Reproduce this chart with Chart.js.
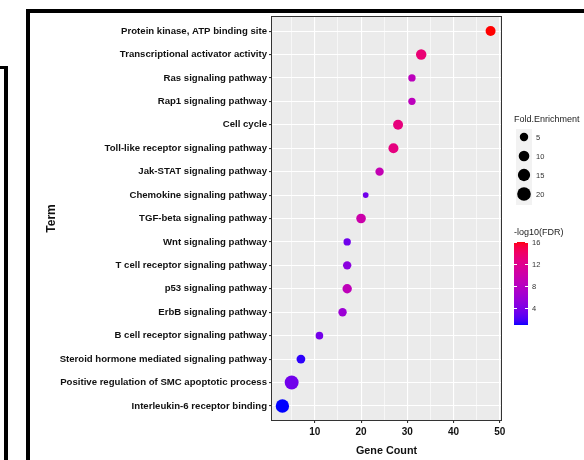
<!DOCTYPE html>
<html>
<head>
<meta charset="utf-8">
<script src="https://cdn.jsdelivr.net/npm/chart.js@4.4.1/dist/chart.umd.min.js"></script>
<style>
  html, body { margin: 0; padding: 0; background: #fff; }
  #wrap { position: relative; width: 584px; height: 460px; overflow: hidden; }
  #chart { position: absolute; left: 0; top: 0; }
  .frame { position: absolute; background: #000; }
</style>
</head>
<body>
<div id="wrap">
  <canvas id="chart" width="584" height="460"></canvas>
  <div class="frame" style="left:26px;top:9px;width:558px;height:4px"></div>
  <div class="frame" style="left:26px;top:9px;width:4px;height:451px"></div>
  <div class="frame" style="left:0;top:66px;width:8px;height:3px"></div>
  <div class="frame" style="left:4px;top:66px;width:4px;height:394px"></div>
</div>
<script>
const terms = [
  'Protein kinase, ATP binding site',
  'Transcriptional activator activity',
  'Ras signaling pathway',
  'Rap1 signaling pathway',
  'Cell cycle',
  'Toll-like receptor signaling pathway',
  'Jak-STAT signaling pathway',
  'Chemokine signaling pathway',
  'TGF-beta signaling pathway',
  'Wnt signaling pathway',
  'T cell receptor signaling pathway',
  'p53 signaling pathway',
  'ErbB signaling pathway',
  'B cell receptor signaling pathway',
  'Steroid hormone mediated signaling pathway',
  'Positive regulation of SMC apoptotic process',
  'Interleukin-6 receptor binding'
];
const geneCount = [48, 33, 31, 31, 28, 27, 24, 21, 20, 17, 17, 17, 16, 11, 7, 5, 3];
const foldEnrichment = [8.4, 9.5, 3.2, 3.2, 8.4, 8.4, 4.9, 1.2, 7.5, 3.2, 4.9, 7.0, 4.9, 3.5, 5.7, 21, 19];
const logFDR = [16.0, 13.4, 8.5, 8.5, 13.0, 12.8, 9.2, 3.5, 10.0, 3.4, 4.9, 8.7, 6.0, 3.6, 1.4, 3.5, 1.0];
const sizeBreaks = [5, 10, 15, 20];
const colorBreaks = [4, 8, 12, 16];
const xTicks = [5, 10, 15, 20, 25, 30, 35, 40, 45, 50];
const fdrRange = [1, 16];

const FONT = '"Liberation Sans", Arial, sans-serif';

// size mapping (radius linear in sqrt of value)
function radius(fe) { return 1.6 + 1.17 * Math.sqrt(fe); }

// blue -> red gradient, blended in linear light
function toLin(c) { c /= 255; return c <= 0.04045 ? c / 12.92 : Math.pow((c + 0.055) / 1.055, 2.4); }
function toSrgb(c) {
  const v = c <= 0.0031308 ? 12.92 * c : 1.055 * Math.pow(c, 1 / 2.4) - 0.055;
  return Math.round(Math.max(0, Math.min(1, v)) * 255);
}
const lowCol = [0, 0, 255].map(toLin);
const highCol = [255, 0, 0].map(toLin);
function fdrColor(v) {
  const t = Math.max(0, Math.min(1, (v - fdrRange[0]) / (fdrRange[1] - fdrRange[0])));
  const [r, g, b] = lowCol.map((c, i) => toSrgb(c + (highCol[i] - c) * t));
  return `rgb(${r},${g},${b})`;
}

const points = terms.map((t, i) => ({ x: geneCount[i], y: i, r: radius(foldEnrichment[i]) }));

const panelPlugin = {
  id: 'panel',
  beforeDraw(chart) {
    const { ctx, chartArea: a } = chart;
    ctx.save();
    ctx.fillStyle = '#EBEBEB';
    ctx.fillRect(a.left, a.top, a.right - a.left, a.bottom - a.top);
    ctx.restore();
  },
  afterDatasetsDraw(chart) {
    const { ctx, chartArea: a } = chart;
    ctx.save();
    ctx.strokeStyle = '#333';
    ctx.lineWidth = 1;
    ctx.strokeRect(a.left - 0.5, a.top - 0.5, a.right - a.left + 1, a.bottom - a.top + 1);
    ctx.restore();
  }
};

const legendPlugin = {
  id: 'ggLegend',
  afterDraw(chart) {
    const ctx = chart.ctx;
    ctx.save();
    ctx.textBaseline = 'middle';
    ctx.textAlign = 'left';

    // size legend
    ctx.fillStyle = '#222';
    ctx.font = '9px ' + FONT;
    ctx.fillText('Fold.Enrichment', 514, 120);
    ctx.fillStyle = '#F2F2F2';
    ctx.fillRect(516, 129, 16, 76);
    sizeBreaks.forEach((v, i) => {
      const y = 137 + i * 19;
      ctx.fillStyle = '#000';
      ctx.beginPath();
      ctx.arc(524, y, radius(v), 0, Math.PI * 2);
      ctx.fill();
      ctx.fillStyle = '#333';
      ctx.font = '7.5px ' + FONT;
      ctx.fillText(String(v), 536, y + 0.5);
    });

    // colour bar
    ctx.fillStyle = '#222';
    ctx.font = '9px ' + FONT;
    ctx.fillText('-log10(FDR)', 514, 233);
    const top = 242, bot = 325, x0 = 514, w = 14;
    const valToY = v => bot - (v - fdrRange[0]) / (fdrRange[1] - fdrRange[0]) * (bot - top);
    for (let y = top; y < bot; y++) {
      const v = fdrRange[1] - (y + 0.5 - top) / (bot - top) * (fdrRange[1] - fdrRange[0]);
      ctx.fillStyle = fdrColor(v);
      ctx.fillRect(x0, y, w, 1);
    }
    colorBreaks.forEach(v => {
      const y = Math.round(valToY(v)) + 0.5;
      ctx.strokeStyle = '#fff';
      ctx.lineWidth = 1;
      ctx.beginPath();
      ctx.moveTo(x0, y); ctx.lineTo(x0 + 3, y);
      ctx.moveTo(x0 + w - 3, y); ctx.lineTo(x0 + w, y);
      ctx.stroke();
      ctx.fillStyle = '#333';
      ctx.font = '7.5px ' + FONT;
      ctx.fillText(String(v), 532, y);
    });
    ctx.restore();
  }
};

new Chart(document.getElementById('chart'), {
  type: 'bubble',
  data: {
    datasets: [{
      data: points,
      backgroundColor: logFDR.map(fdrColor),
      borderWidth: 0,
      hoverBorderWidth: 0
    }]
  },
  options: {
    responsive: false,
    animation: false,
    events: [],
    layout: { padding: { top: 17, right: 83, bottom: 0, left: 0 } },
    plugins: { legend: { display: false }, tooltip: { enabled: false } },
    scales: {
      x: {
        type: 'linear',
        min: 0.75,
        max: 50.25,
        afterBuildTicks: s => { s.ticks = xTicks.map(v => ({ value: v })); },
        afterFit: s => { s.height = 40; },
        ticks: {
          callback: v => (v % 10 === 0 ? String(v) : ''),
          font: { family: FONT, size: 10, weight: 'bold' },
          color: '#111',
          padding: 3,
          maxRotation: 0,
          autoSkip: false
        },
        grid: {
          color: '#FFFFFF',
          lineWidth: c => (c.tick && c.tick.value % 10 === 0 ? 1.1 : 0.6),
          tickColor: c => (c.tick && c.tick.value % 10 === 0 ? '#333' : 'rgba(0,0,0,0)'),
          tickLength: 3
        },
        border: { display: false },
        title: {
          display: true,
          text: 'Gene Count',
          font: { family: FONT, size: 10.8, weight: 'bold' },
          color: '#111',
          padding: { top: 0, bottom: 2 }
        }
      },
      y: {
        type: 'linear',
        reverse: true,
        min: -0.6,
        max: terms.length - 0.4,
        afterBuildTicks: s => { s.ticks = terms.map((t, i) => ({ value: i })); },
        afterFit: s => { s.width = 272; },
        ticks: {
          callback: v => terms[v],
          font: { family: FONT, size: 9.6, weight: 'bold' },
          color: '#111',
          padding: 2,
          autoSkip: false
        },
        grid: {
          color: '#FFFFFF',
          lineWidth: 1.1,
          tickColor: '#333',
          tickLength: 3
        },
        border: { display: false },
        title: {
          display: true,
          text: 'Term',
          font: { family: FONT, size: 12, weight: 'bold' },
          color: '#111',
          padding: { top: 44.5, bottom: 0 }
        }
      }
    }
  },
  plugins: [panelPlugin, legendPlugin]
});
</script>
</body>
</html>
